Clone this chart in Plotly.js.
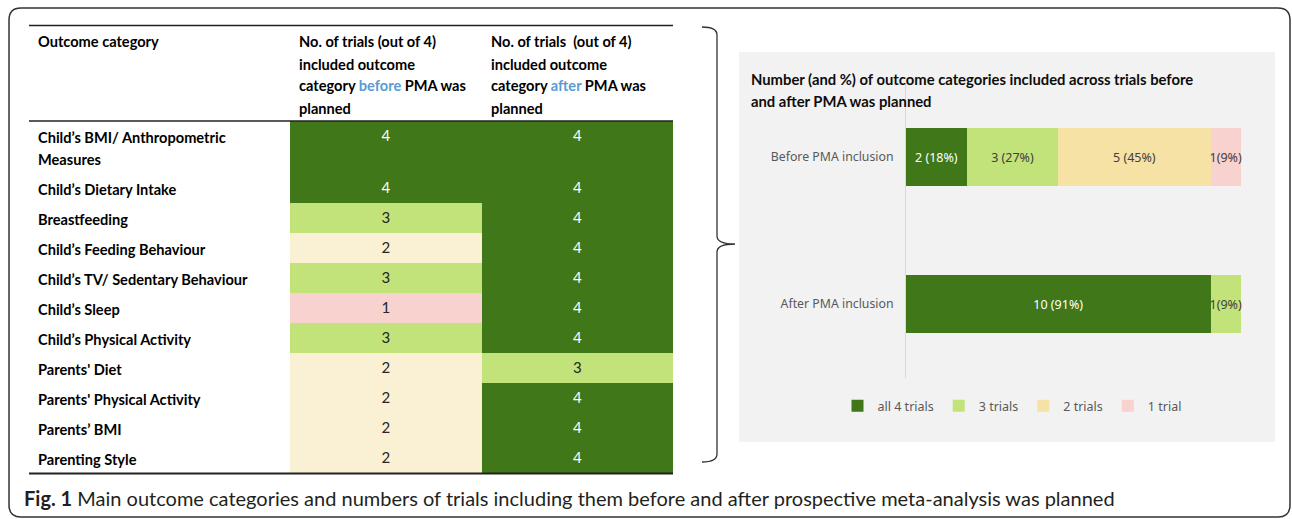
<!DOCTYPE html>
<html>
<head>
<meta charset="utf-8">
<script src="https://cdn.plot.ly/plotly-3.0.1.min.js"></script>
<style>html,body{margin:0;padding:0;background:#fff;}#chart{width:1292px;height:519px;}</style>
</head>
<body>
<div id="chart"></div>
<script>
// ---------- DATA ----------
const outcomeCategories = [
  "Child’s BMI/ Anthropometric\nMeasures",
  "Child’s Dietary Intake",
  "Breastfeeding",
  "Child’s Feeding Behaviour",
  "Child’s TV/ Sedentary Behaviour",
  "Child’s Sleep",
  "Child’s Physical Activity",
  "Parents' Diet",
  "Parents' Physical Activity",
  "Parents’ BMI",
  "Parenting Style"
];
const trialsBefore = [4, 4, 3, 2, 3, 1, 3, 2, 2, 2, 2];
const trialsAfter  = [4, 4, 4, 4, 4, 4, 4, 3, 4, 4, 4];
const tableColumns = ["before", "after"];

const phases = ["Before PMA inclusion", "After PMA inclusion"];
const seriesNames = ["all 4 trials", "3 trials", "2 trials", "1 trial"];
const all4Trials = [2, 10];
const threeTrials = [3, 1];
const twoTrials = [5, 0];
const oneTrial = [1, 0];
const all4Labels = ["2 (18%)", "10 (91%)"];
const threeLabels = ["3 (27%)", "1(9%)"];
const twoLabels = ["5 (45%)", ""];
const oneLabels = ["1(9%)", ""];

// ---------- STYLE ----------
const W = 1292, H = 519;
const DARK = "#3f7719", LIGHT = "#c1e37a", CREAM = "#faf0d3", YELLOW = "#f5e2a4", PINK = "#f8d2ce";
const TFONT = "Lato, 'Noto Sans', sans-serif";
const CFONT = "'Noto Sans', 'DejaVu Sans', sans-serif";
const TSIZE = 14.6;
const px = x => x / W;
const py = y => 1 - y / H;
const P = (x, y) => px(x).toFixed(5) + "," + py(y).toFixed(5);

// table row geometry (units = pixels along the table axis)
const LINE = 22, ROW = 30, FIRST = 16;
const rowLines = outcomeCategories.map(s => s.split("\n"));
const edges = [0];
rowLines.forEach(l => edges.push(edges[edges.length - 1] + ROW + LINE * (l.length - 1)));
const tableTop = 121, tableBottom = tableTop + edges[edges.length - 1];

// ---------- TRACES ----------
const heat = {
  type: "heatmap", xaxis: "x2", yaxis: "y2",
  x: tableColumns, y: edges,
  z: outcomeCategories.map((_, i) => [trialsBefore[i], trialsAfter[i]]),
  zmin: 1, zmax: 4, showscale: false, hoverinfo: "skip",
  colorscale: [[0, PINK], [1/3, CREAM], [2/3, LIGHT], [1, DARK]]
};
const numX = [], numY = [], numT = [], numC = [];
outcomeCategories.forEach((_, i) => {
  [trialsBefore[i], trialsAfter[i]].forEach((v, j) => {
    numX.push(tableColumns[j]); numY.push(edges[i] + FIRST);
    numT.push(String(v)); numC.push(v === 4 ? "#ffffff" : "#262626");
  });
});
const nums = {
  type: "scatter", mode: "text", xaxis: "x2", yaxis: "y2",
  x: numX, y: numY, text: numT, showlegend: false, hoverinfo: "skip",
  textfont: {family: TFONT, size: 15, color: numC}, cliponaxis: false
};

function barTrace(name, vals, labels, color, txtColor) {
  return {
    type: "bar", orientation: "h", name: name, x: vals, y: phases,
    xaxis: "x", yaxis: "y", width: 0.4,
    marker: {color: color, line: {width: 0}},
    text: labels, textposition: "inside", insidetextanchor: "middle",
    textangle: 0, constraintext: "none", cliponaxis: false,
    textfont: {family: CFONT, size: 12.5, color: txtColor},
    hoverinfo: "skip"
  };
}
const bars = [
  barTrace(seriesNames[0], all4Trials, all4Labels, DARK, "#ffffff"),
  barTrace(seriesNames[1], threeTrials, threeLabels, LIGHT, "#404040"),
  barTrace(seriesNames[2], twoTrials, twoLabels, YELLOW, "#404040"),
  barTrace(seriesNames[3], oneTrial, oneLabels, PINK, "#404040")
];

// ---------- ANNOTATIONS ----------
const ann = [];
function txt(x, y, text, opts) {
  ann.push(Object.assign({
    xref: "paper", yref: "paper", x: px(x), y: py(y), text: text,
    xanchor: "left", yanchor: "middle", showarrow: false, borderpad: 0,
    font: {family: TFONT, size: TSIZE, color: "#000"}
  }, opts || {}));
}
const blue = s => '<span style="color:#5b9bd5">' + s + '</span>';
txt(37, 42, "<b>Outcome category</b>");
["No. of trials (out of 4)", "included outcome", "category " + blue("before") + " PMA was", "planned"]
  .forEach((s, k) => txt(298, 42 + LINE * k, "<b>" + s + "</b>"));
["No. of trials \u00a0(out of 4)", "included outcome", "category " + blue("after") + " PMA was", "planned"]
  .forEach((s, k) => txt(490, 42 + LINE * k, "<b>" + s + "</b>"));
rowLines.forEach((lines, i) => lines.forEach((s, k) => {
  ann.push({
    xref: "paper", yref: "y2", x: px(37), y: edges[i] + FIRST + LINE * k,
    text: "<b>" + s + "</b>", xanchor: "left", yanchor: "middle",
    showarrow: false, borderpad: 0, font: {family: TFONT, size: TSIZE, color: "#000"}
  });
}));
txt(750, 79, "<b>Number (and %) of outcome categories included across trials before</b>", {font: {family: TFONT, size: 14.8, color: "#0d0d0d"}});
txt(750, 101, "<b>and after PMA was planned</b>", {font: {family: TFONT, size: 14.8, color: "#0d0d0d"}});
txt(23, 498, "<b>Fig. 1</b> Main outcome categories and numbers of trials including them before and after prospective meta-analysis was planned",
  {font: {family: TFONT, size: 20, color: "#231f20"}});

// ---------- SHAPES ----------
const shapes = [
  {type: "rect", xref: "paper", yref: "paper", x0: px(739), x1: px(1275), y0: py(442), y1: py(52),
   fillcolor: "#f2f2f2", line: {width: 0}, layer: "below"},
  {type: "path", xref: "paper", yref: "paper", line: {color: "#333", width: 1.5},
   path: `M${P(21,8)} L${P(1278,8)} Q${P(1290,8)} ${P(1290,20)} L${P(1290,505)} Q${P(1290,517)} ${P(1278,517)} L${P(21,517)} Q${P(9,517)} ${P(9,505)} L${P(9,20)} Q${P(9,8)} ${P(21,8)} Z`},
  {type: "path", xref: "paper", yref: "paper", line: {color: "#333", width: 1.3},
   path: `M${P(702,27)} Q${P(717,27)} ${P(717,35)} L${P(717,236)} Q${P(717,244)} ${P(735,244)} Q${P(717,244)} ${P(717,252)} L${P(717,454)} Q${P(717,462)} ${P(702,462)}`},
  {type: "line", xref: "paper", yref: "paper", x0: px(29), x1: px(673), y0: py(25.5), y1: py(25.5), line: {color: "#222", width: 1.5}},
  {type: "line", xref: "paper", yref: "paper", x0: px(29), x1: px(673), y0: py(tableTop), y1: py(tableTop), line: {color: "#222", width: 1.5}},
  {type: "line", xref: "paper", yref: "paper", x0: px(29), x1: px(673), y0: py(tableBottom + 0.5), y1: py(tableBottom + 0.5), line: {color: "#222", width: 2}}
];

// ---------- LAYOUT ----------
const layout = {
  width: W, height: H, margin: {l: 0, r: 0, t: 0, b: 0, pad: 0},
  paper_bgcolor: "#ffffff", plot_bgcolor: "rgba(0,0,0,0)",
  barmode: "stack", showlegend: true,
  xaxis: {domain: [px(906), px(1241)], range: [0, 11], visible: false, anchor: "y", fixedrange: true},
  yaxis: {domain: [py(377.5), py(83.5)], type: "category", categoryarray: phases, categoryorder: "array",
          range: [1.5, -0.5], anchor: "x", showline: true, linecolor: "#d9d9d9", linewidth: 1,
          ticks: "", showgrid: false, zeroline: false, ticklabelstandoff: 9,
          tickfont: {family: CFONT, size: 12.3, color: "#595959"}, fixedrange: true},
  xaxis2: {domain: [px(290), px(673)], type: "category", range: [-0.5, 1.5], visible: false, anchor: "y2", fixedrange: true},
  yaxis2: {domain: [py(tableBottom), py(tableTop)], range: [edges[edges.length - 1], 0], visible: false, anchor: "x2", fixedrange: true},
  legend: {orientation: "h", x: px(1012), xanchor: "center", y: py(406), yanchor: "middle",
           font: {family: CFONT, size: 12.5, color: "#595959"}, bgcolor: "rgba(0,0,0,0)",
           traceorder: "normal", itemwidth: 30},
  annotations: ann, shapes: shapes
};

Plotly.newPlot("chart", [heat, nums].concat(bars), layout, {staticPlot: true, displayModeBar: false});
</script>
</body>
</html>
